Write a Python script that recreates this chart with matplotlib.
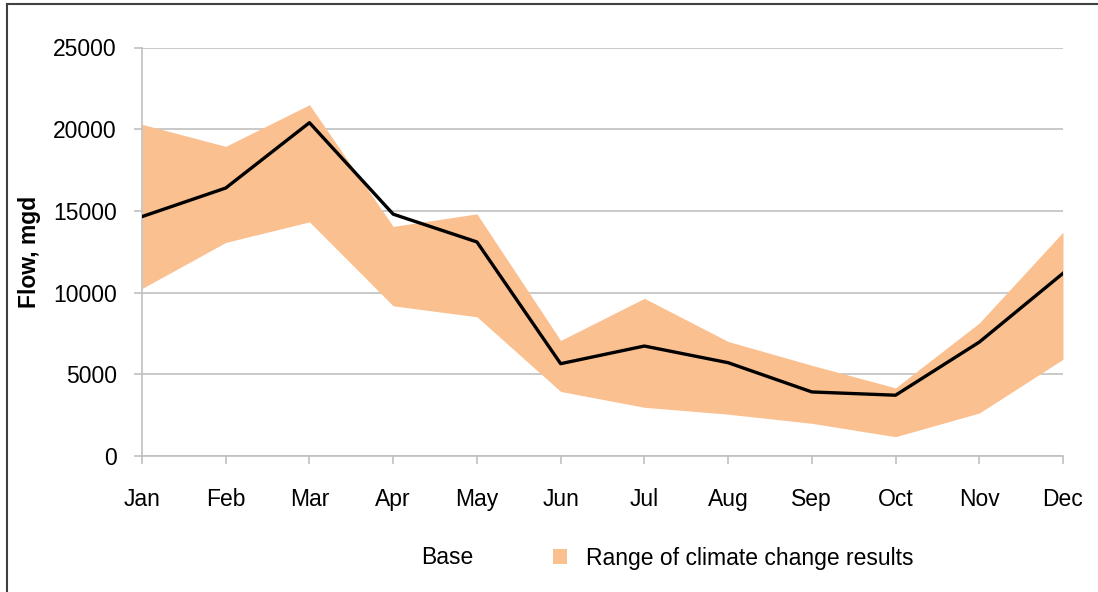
import matplotlib.pyplot as plt
from matplotlib.lines import Line2D
from matplotlib.patches import Patch

months = ["Jan", "Feb", "Mar", "Apr", "May", "Jun",
          "Jul", "Aug", "Sep", "Oct", "Nov", "Dec"]
base = [14650, 16400, 20400, 14800, 13100, 5650,
        6730, 5710, 3920, 3720, 6970, 11180]
range_high = [20300, 18950, 21500, 14050, 14820, 7070,
              9650, 7010, 5550, 4170, 8140, 13700]
range_low = [10250, 13070, 14330, 9190, 8520, 3950,
             2980, 2560, 2000, 1180, 2630, 5920]
yticks = [0, 5000, 10000, 15000, 20000, 25000]

plt.rcParams["font.family"] = ["Liberation Sans", "DejaVu Sans"]
fs = 16.5

W, H = 1098, 592
fig = plt.figure(figsize=(W / 100, H / 100), dpi=100)
ax = fig.add_axes([142 / W, 1 - 456 / H, (1063 - 142) / W, (456 - 47.5) / H])

x = list(range(len(months)))
ax.fill_between(x, range_low, range_high, color="#FAC090", linewidth=0, zorder=2)
ax.plot(x, base, color="black", linewidth=2.4, zorder=3)

ax.set_xlim(0, len(months) - 1)
ax.set_ylim(0, 25000)
ax.set_xticks(x)
ax.set_xticklabels(months)
ax.set_yticks(yticks)
ax.set_yticklabels([str(v) for v in yticks])

grid_c = "#C0C0C0"
ax.yaxis.grid(True, color=grid_c, linewidth=1.2, zorder=1)
ax.set_axisbelow(True)
for side in ["top", "right"]:
    ax.spines[side].set_visible(False)
for side in ["left", "bottom"]:
    ax.spines[side].set_color(grid_c)
    ax.spines[side].set_linewidth(1.2)
ax.tick_params(axis="x", length=6, color=grid_c, width=1.2, pad=17, labelsize=fs)
ax.tick_params(axis="y", length=6, color=grid_c, width=1.2, pad=12, labelsize=fs)

ax.set_ylabel("Flow, mgd", fontsize=fs, fontweight="bold")
ax.yaxis.set_label_coords(-(142 - 41) / (1063 - 142), 0.5)

handles = [Line2D([], [], color="none"), Patch(facecolor="#FAC090", edgecolor="none")]
fig.legend(handles, ["Base", "Range of climate change results"],
           loc="center", bbox_to_anchor=(651 / W, 1 - 558 / H), ncol=2,
           frameon=False, fontsize=fs, handlelength=0.6, handleheight=0.6,
           handletextpad=0.8, columnspacing=3.5, borderpad=0.2)

# outer chart frame (only left and top edges visible in crop)
fig.add_artist(Line2D([7 / W, 7 / W], [0, 1 - 4 / H], color="#404040", linewidth=1.5))
fig.add_artist(Line2D([7 / W, 1], [1 - 4 / H, 1 - 4 / H], color="#404040", linewidth=1.5))

fig.savefig("out.png", dpi=100)
